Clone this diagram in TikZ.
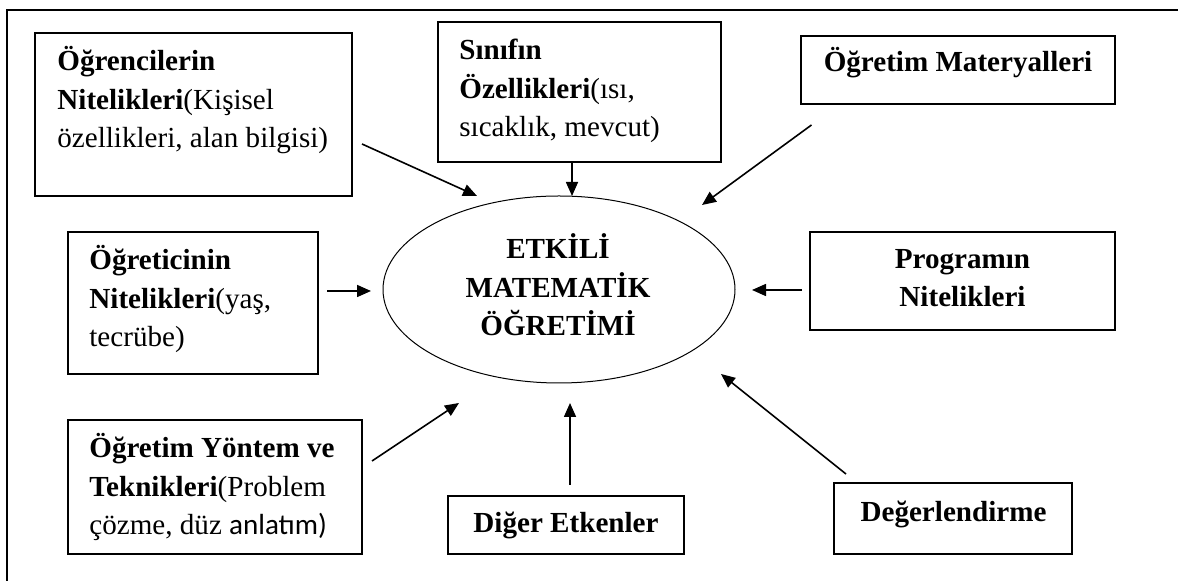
\documentclass[tikz,border=0pt]{standalone}
\usepackage{fontspec}
\setmainfont{Liberation Serif}
\newfontfamily\calibri{Carlito}
\usepackage{tikz}
\usetikzlibrary{shapes,shapes.geometric,arrows.meta,positioning}

\begin{document}
\begin{tikzpicture}[x=0.5pt,y=-0.5pt]
	\tikzstyle{kutu}=[rectangle,draw,line width=0.75pt,inner sep=0pt,outer sep=0pt,anchor=north west]
	\tikzstyle{yazi}=[inner sep=0pt,anchor=base west,align=left,font=\fontsize{14.55}{19.25}\selectfont]
	\tikzstyle{orta}=[yazi,anchor=base,align=center]
	\tikzstyle{ok}=[line width=0.8pt,-{Triangle[length=7pt,width=6pt]}]
	\useasboundingbox (0,0) rectangle (1178,581);
	\draw[line width=1.2pt] (1178,10) -- (7,10) -- (7,581);

	\node[kutu,minimum width=158.5pt,minimum height=81.5pt] (ogrenci) at (35,33) {};
	\node[yazi] (ogrenciYazi) at (57,148) {\textbf{Öğrencilerin}\\\textbf{Nitelikleri}(Kişisel\\özellikleri, alan bilgisi)};
	\node[kutu,minimum width=141.5pt,minimum height=70pt] (sinif) at (438,22) {};
	\node[yazi] (sinifYazi) at (459,137) {\textbf{Sınıfın}\\\textbf{Özellikleri}(ısı,\\sıcaklık, mevcut)};
	\node[kutu,minimum width=157pt,minimum height=34pt] (materyal) at (801,36) {};
	\node[orta] (materyalYazi) at (958,72) {\textbf{Öğretim Materyalleri}};
	\node[kutu,minimum width=125pt,minimum height=71pt] (ogretici) at (68,232) {};
	\node[yazi] (ogreticiYazi) at (89,347) {\textbf{Öğreticinin}\\\textbf{Nitelikleri}(yaş,\\tecrübe)};
	\node[kutu,minimum width=152.5pt,minimum height=49pt] (program) at (810,232) {};
	\node[orta] (programYazi) at (962.5,307) {\textbf{Programın}\\\textbf{Nitelikleri}};
	\node[kutu,minimum width=147pt,minimum height=67pt] (yontem) at (68,420) {};
	\node[yazi] (yontemYazi) at (89,535) {\textbf{Öğretim Yöntem ve}\\\textbf{Teknikleri}(Problem\\çözme, düz {\calibri anlatım)}};
	\node[kutu,minimum width=118pt,minimum height=29pt] (diger) at (448,496) {};
	\node[orta] (digerYazi) at (566,533) {\textbf{Diğer Etkenler}};
	\node[kutu,minimum width=119pt,minimum height=35.5pt] (deger) at (834,483) {};
	\node[orta] (degerYazi) at (953.5,522) {\textbf{Değerlendirme}};

	\node[ellipse,draw,line width=0.5pt,inner sep=0pt,minimum width=176pt,minimum height=93.5pt] (etkili) at (559,289.5) {};
	\node[orta] (etkiliYazi) at (558,336) {\textbf{ETKİLİ}\\\textbf{MATEMATİK}\\\textbf{ÖĞRETİMİ}};

	\coordinate (o1) at (362,144);   \coordinate (h1) at (477,196);
	\coordinate (o2) at (572,162);   \coordinate (h2) at (572,196);
	\coordinate (o3) at (811.5,125); \coordinate (h3) at (702,205);
	\coordinate (o4) at (327,291);   \coordinate (h4) at (371,291);
	\coordinate (o5) at (802,290);   \coordinate (h5) at (752,290);
	\coordinate (o6) at (372,461);   \coordinate (h6) at (459,403);
	\coordinate (o7) at (570,485);   \coordinate (h7) at (570,403);
	\coordinate (o8) at (846,474);   \coordinate (h8) at (721,374);
	\draw[ok] (o1) -- (h1);
	\draw[ok] (o2) -- (h2);
	\draw[ok] (o3) -- (h3);
	\draw[ok] (o4) -- (h4);
	\draw[ok] (o5) -- (h5);
	\draw[ok] (o6) -- (h6);
	\draw[ok] (o7) -- (h7);
	\draw[ok] (o8) -- (h8);
\end{tikzpicture}
\end{document}
